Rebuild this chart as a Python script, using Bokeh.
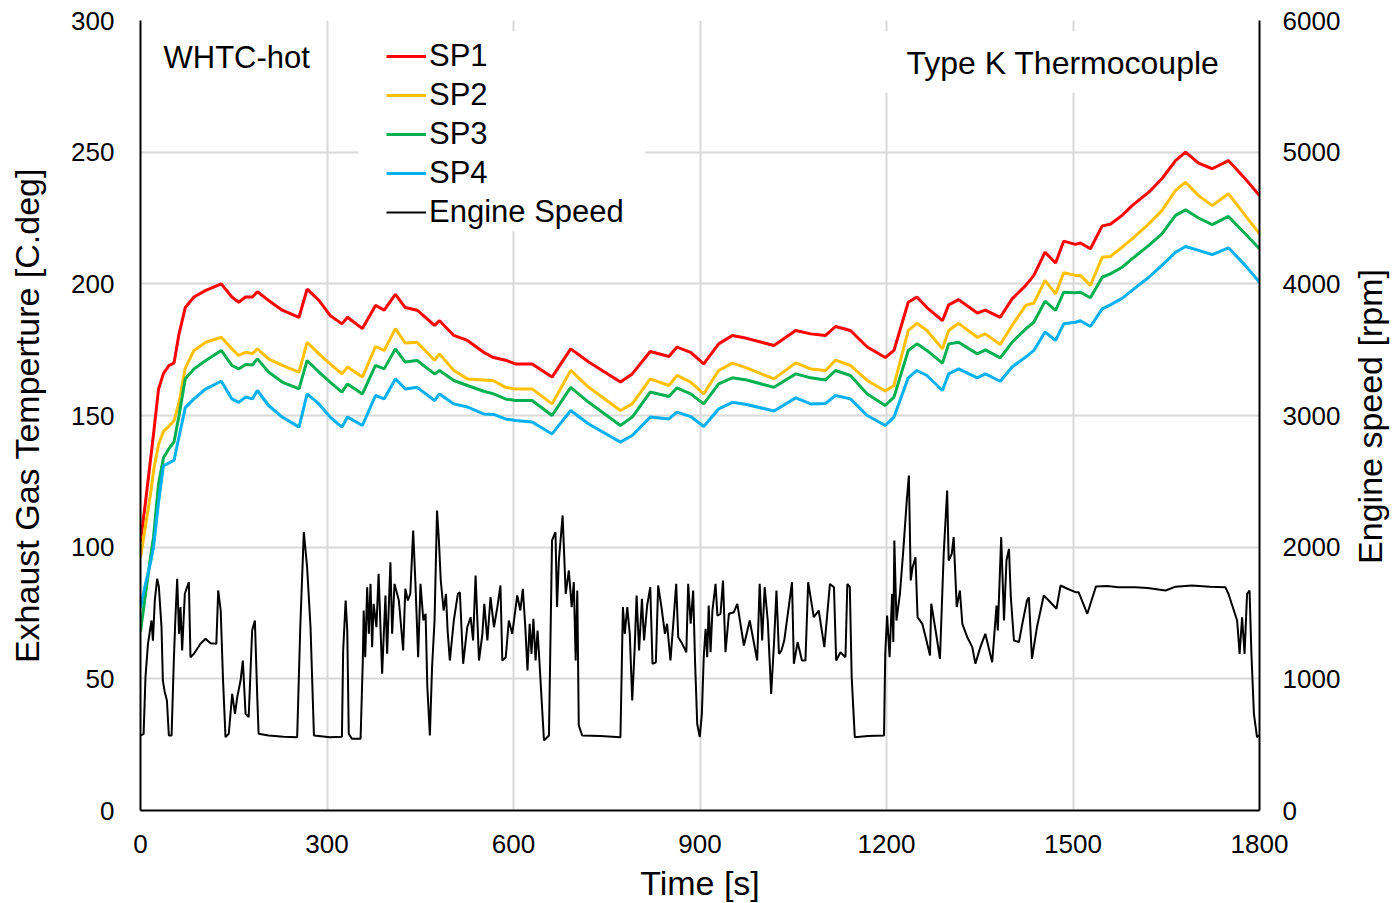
import math
from bokeh.plotting import figure
from bokeh.models import (Range1d, LinearAxis, Legend, LegendItem, BoxAnnotation,
                          Label, FixedTicker)
from bokeh.embed import file_html
from bokeh.resources import INLINE

# ---------------- data ----------------
TEMP_T = [0, 8, 16, 21, 29, 37, 46, 54, 62, 72, 86, 105, 130, 147, 158, 169, 180, 188,
          206, 228, 255, 268, 287, 305, 324, 333, 357, 378, 392, 410, 426, 445, 473, 481,
          504, 526, 552, 568, 587, 603, 630, 662, 692, 721, 772, 791, 820, 850, 863, 885,
          906, 930, 952, 975, 1019, 1054, 1078, 1102, 1118, 1142, 1169, 1198, 1212, 1235,
          1249, 1265, 1290, 1300, 1316, 1346, 1359, 1383, 1402, 1424, 1437, 1455, 1472,
          1485, 1504, 1512, 1528, 1547, 1560, 1579, 1595, 1622, 1643, 1665, 1681, 1702,
          1724, 1750, 1777, 1800]

SP1 = [102, 117, 133, 143, 160, 166, 169, 170, 181, 191, 195, 197.5, 200, 195, 193, 195,
       195, 197, 193.7, 190, 187.3, 198, 193.7, 188, 184.8, 187.3, 183, 191.8, 190, 196,
       191, 190, 184.2, 186, 180.4, 178.5, 174, 172, 171, 169.6, 169.6, 164.6, 175.3,
       170.3, 162.7, 165.8, 174.3, 172.4, 176, 174, 169.6, 177.2, 180.4, 179.3, 176.6,
       182.3, 181, 180.4, 183.8, 182.3, 176, 172, 174.7, 193, 195, 191, 186, 192, 194,
       188.9, 190, 187.3, 194.3, 199.4, 203.2, 212, 207.9, 216.2, 215, 215.5, 213.3, 222,
       222.6, 226, 229.7, 234.8, 239.9, 246.8, 250, 245.8, 243.7, 246.8, 239.9, 233.5]

SP2 = [96, 108, 120, 129, 139, 144, 146, 148, 155, 168, 174.7, 177.8, 179.7, 175.3, 172.8,
       174, 173.5, 175.3, 171.5, 169, 166.5, 177.8, 173.4, 169.6, 165.8, 168.4, 164.6,
       176.2, 174.7, 183, 177.5, 177.8, 171, 173.4, 167.1, 163.9, 163.5, 163.2, 160.7,
       160.1, 160.1, 154.4, 167.1, 160.7, 151.9, 154.4, 163.9, 161.4, 165.2, 162.7, 158.2,
       167.1, 169.9, 168.1, 163.9, 170, 167.7, 167.1, 171, 169, 163.3, 159.3, 161.4, 182.3,
       185, 182.3, 175.3, 182.3, 185, 179.7, 181, 177, 184.2, 191.8, 192.7, 201.3, 196.2,
       204.2, 203.2, 203.2, 199.4, 210.1, 210.4, 213.9, 217.1, 222.8, 227.8, 235.5, 238.6,
       233.5, 229.7, 234.2, 226, 219]

SP3 = [68, 82, 96, 104, 124, 134, 137.5, 140, 150, 164, 167.7, 170.9, 174.7, 169, 167.7,
       169.4, 169.2, 171.5, 166.5, 162.7, 160.1, 170.9, 166.5, 162.7, 158.9, 162, 158.2,
       169, 167.7, 175.3, 170.3, 170.9, 165.8, 167.1, 163.3, 161.4, 159.2, 158.2, 156.3,
       155.7, 155.7, 150, 160.7, 155, 146.2, 149.4, 158.9, 157.2, 160.5, 158.2, 154.4, 162,
       164.3, 163.5, 160.7, 165.8, 164.3, 163.5, 167.1, 165.2, 158.2, 153.8, 157, 174.7,
       177.2, 174.7, 169.9, 177.2, 177.8, 173.4, 174.9, 171.9, 177.8, 182.9, 185.4, 193.4,
       189.9, 196.8, 196.6, 196.8, 194.7, 202.5, 203.8, 206.3, 209.5, 214.6, 219, 226,
       228.1, 225, 222.5, 225.6, 219, 213.3]

SP4 = [77, 86, 94, 100, 117, 131, 132, 133, 142, 153, 156.3, 160.1, 163, 156.3, 155, 157,
       156.3, 159.5, 153.8, 149.4, 145.6, 158.2, 154.4, 149.4, 145.6, 149.4, 146.2, 157.6,
       156.3, 163.9, 160.1, 160.7, 155.7, 158.2, 154.4, 153.2, 150.6, 150.4, 148.7, 148.1,
       147.5, 143, 151.9, 146.8, 139.9, 142.4, 149.4, 148.7, 151.3, 149.6, 145.8, 152.5,
       155, 154.2, 151.7, 156.7, 154.4, 154.6, 157.6, 156.3, 150, 146.2, 149.4, 164.3,
       167.1, 165.2, 159.5, 165.8, 167.7, 164.3, 165.8, 163, 168.4, 172.2, 174.7, 181.7,
       178.5, 184.8, 185.4, 186, 183.8, 190.5, 192, 194.5, 197.5, 202.5, 207, 212, 214.2,
       212.7, 211.1, 213.7, 207, 200.6]

SPEED_T = [0, 5, 8, 12, 17.7, 20, 23, 26.8, 29.5, 33.8, 36, 39, 42.5, 45.6, 50, 53.6, 56,
           59, 62, 64.3, 67, 71.3, 77.8, 80.4, 86, 96.5, 104.6, 112.7, 122, 125, 129,
           132.6, 136.7, 142, 147.5, 152, 155.6, 161, 164.6, 169, 174, 179.6, 184, 188, 190,
           206, 230, 252, 257, 262.7, 268, 273.5, 279, 305, 324, 326, 330, 332.6, 335, 340,
           354, 357.6, 359, 361.5, 364.6, 367.3, 370, 372.6, 375, 379.5, 383, 388.7, 394,
           396.7, 402, 404.8, 408.6, 415.6, 422.5, 426, 430, 434, 438.6, 442.5, 446.6,
           450.4, 455, 458.6, 461.4, 465.5, 469, 473, 477, 480, 483, 487.6, 491.4, 494,
           497.6, 504, 510.5, 513.7, 519, 525.6, 531, 535, 539, 544.5, 550, 553, 558, 563,
           568.6, 574, 579, 582, 587.5, 592.5, 598, 606, 611, 615, 619, 622.5, 626, 629,
           632, 635.5, 638.7, 641, 649, 657, 662, 667.5, 670, 673, 679, 684, 689, 693.6,
           697, 700, 702.6, 705, 710.5, 740, 772, 776, 779, 783, 787, 791, 795, 798, 802,
           806.6, 810, 815, 820, 823.6, 829, 832.7, 838, 843.6, 847, 852.5, 858, 861.7, 865,
           871.5, 878, 881, 885, 889, 892, 895.5, 899.6, 903, 906, 909, 911.6, 914, 917,
           920, 925, 928, 933, 937, 941, 946.5, 954.5, 960, 970.6, 980, 992, 996, 1000,
           1004, 1009, 1014.5, 1019, 1023, 1027, 1031, 1035.5, 1042, 1048, 1051, 1057, 1064,
           1069.6, 1074, 1083, 1091, 1100, 1109, 1115.5, 1119, 1126, 1134, 1137, 1141, 1144,
           1149, 1170, 1196, 1198, 1201, 1205, 1209, 1211, 1212.6, 1216, 1221.6, 1227,
           1232.6, 1236, 1239, 1242, 1246.6, 1250, 1257.6, 1263, 1270, 1272, 1279, 1286,
           1292, 1297.6, 1300, 1305, 1308, 1313, 1318, 1322, 1330, 1338, 1343, 1351, 1359,
           1370, 1377, 1379, 1384.5, 1389, 1393, 1397, 1400, 1405, 1413, 1418.5, 1426, 1429,
           1434, 1442, 1453, 1461, 1473.4, 1480, 1491, 1504, 1509, 1523, 1537, 1555, 1573,
           1600, 1620, 1649, 1665, 1691, 1720, 1745, 1750, 1764, 1768, 1772, 1776, 1780,
           1784, 1787, 1791, 1796, 1800]

SPEED_RPM = [570, 580, 1012, 1266, 1443, 1290, 1595, 1760, 1700, 1392, 987, 900, 835, 570,
             570, 1139, 1443, 1760, 1342, 1545, 1215, 1646, 1734, 1164, 1190, 1266, 1304,
             1271, 1266, 1671, 1519, 1012, 557, 583, 886, 734, 861, 987, 1139, 734, 709,
             1367, 1443, 835, 583, 570, 560, 557, 1392, 2114, 1848, 1392, 570, 557, 560,
             1215, 1595, 1367, 583, 545, 545, 1139, 1519, 1164, 1696, 1342, 1721, 1241,
             1570, 1392, 1797, 1038, 1633, 1190, 1886, 1342, 1721, 1595, 1215, 1684, 1595,
             1646, 2127, 1696, 1164, 1721, 1443, 1494, 937, 570, 1089, 1443, 2278, 2051,
             1747, 1519, 1646, 1367, 1139, 1443, 1646, 1658, 1114, 1392, 1468, 1291, 1785,
             1139, 1342, 1570, 1291, 1620, 1392, 1545, 1709, 1139, 1164, 1443, 1342, 1633,
             1519, 1684, 1392, 1063, 1418, 1190, 1456, 1139, 1367, 1190, 532, 570, 2051,
             2114, 1545, 1899, 2241, 1646, 1823, 1545, 1734, 1139, 1671, 646, 570, 565, 557,
             1545, 1342, 1545, 1342, 835, 1241, 1633, 1215, 1608, 1291, 1557, 1696, 1114,
             1126, 1709, 1545, 1342, 1418, 1139, 1481, 1721, 1316, 1266, 1202, 1721, 1418,
             1671, 1139, 659, 557, 734, 1164, 1380, 1164, 1557, 1202, 1519, 1721, 1481, 1494,
             1747, 1202, 1494, 1506, 1570, 1253, 1443, 1139, 1721, 1291, 1696, 1443, 886,
             1266, 1671, 1190, 1215, 1291, 1519, 1734, 1114, 1279, 1139, 1139, 1734, 1468,
             1519, 1241, 1721, 1696, 1139, 1202, 1164, 1721, 1696, 1012, 557, 565, 570, 1190,
             1481, 1164, 1646, 1279, 2051, 1443, 1646, 1975, 2354, 2544, 1747, 1848, 1924,
             1468, 1418, 1316, 1177, 1570, 1367, 1152, 1949, 2430, 1899, 1949, 2076, 1545,
             1671, 1418, 1316, 1241, 1114, 1241, 1342, 1126, 1557, 1367, 2076, 1443, 1899,
             1987, 1620, 1291, 1279, 1418, 1595, 1620, 1152, 1392, 1633, 1595, 1532, 1709,
             1684, 1658, 1658, 1494, 1702, 1705, 1696, 1696, 1690, 1671, 1700, 1709, 1700,
             1696, 1646, 1443, 1190, 1468, 1190, 1646, 1671, 1190, 734, 557, 570]

X_TICKS = [0, 300, 600, 900, 1200, 1500, 1800]
Y_TICKS = [0, 50, 100, 150, 200, 250, 300]
RPM_TICKS = [0, 1000, 2000, 3000, 4000, 5000, 6000]

SERIES = [("SP1", SP1, "#FF0000"), ("SP2", SP2, "#FFC000"),
          ("SP3", SP3, "#00B050"), ("SP4", SP4, "#00B0F0")]

FONT = "Liberation Sans"
GRID = "#d9d9d9"

# ---------------- figure ----------------
p = figure(frame_width=1119, frame_height=790, output_backend="svg", toolbar_location=None,
           x_range=Range1d(0, 1800), y_range=Range1d(0, 300),
           min_border_left=140, min_border_right=133, min_border_top=20,
           min_border_bottom=93)
p.outline_line_color = None
p.background_fill_color = "white"
p.border_fill_color = "white"
p.extra_y_ranges = {"rpm": Range1d(0, 6000)}

for ax in (p.xaxis[0], p.yaxis[0]):
    ax.major_tick_line_color = None
    ax.minor_tick_line_color = None
    ax.axis_line_color = "black"
    ax.axis_line_width = 2
    ax.major_label_text_font = FONT
    ax.major_label_text_font_size = "26px"
    ax.major_label_text_color = "black"
    ax.axis_label_text_font = FONT
    ax.axis_label_text_font_size = "34px"
    ax.axis_label_text_font_style = "normal"
    ax.axis_label_text_color = "black"

p.xaxis.ticker = FixedTicker(ticks=X_TICKS)
p.yaxis.ticker = FixedTicker(ticks=Y_TICKS)
p.xaxis.axis_label = "Time [s]"
p.yaxis.axis_label = "Exhaust Gas Temperture [C.deg]"
p.xaxis.major_label_standoff = 18
p.xaxis.axis_label_standoff = 8
p.yaxis.major_label_standoff = 20
p.yaxis.axis_label_standoff = 22

raxis = LinearAxis(y_range_name="rpm", ticker=FixedTicker(ticks=RPM_TICKS))
raxis.major_tick_line_color = None
raxis.minor_tick_line_color = None
raxis.axis_line_color = "black"
raxis.axis_line_width = 2
raxis.major_label_text_font = FONT
raxis.major_label_text_font_size = "26px"
raxis.major_label_text_color = "black"
raxis.major_label_standoff = 17
p.add_layout(raxis, "right")

# right axis title (reads bottom to top, like the left one), placed in the right panel
p.add_layout(Label(x=26, y=394, x_units="screen", y_units="screen",
                   text="Engine speed [rpm]", angle=math.pi / 2,
                   text_font=FONT, text_font_size="34px", text_align="center",
                   text_baseline="middle", text_color="black"), "right")

p.xgrid.ticker = FixedTicker(ticks=X_TICKS)
p.ygrid.ticker = FixedTicker(ticks=Y_TICKS)
p.grid.grid_line_color = GRID
p.grid.grid_line_width = 2

# white boxes behind legend and annotation (hide grid lines)
p.add_layout(BoxAnnotation(left=351, right=812, bottom=220, top=296,
                           fill_color="white", fill_alpha=1, line_color=None,
                           level="underlay"))
p.add_layout(BoxAnnotation(left=1190, right=1770, bottom=272.7, top=296,
                           fill_color="white", fill_alpha=1, line_color=None,
                           level="underlay"))

# ---------------- glyphs ----------------
speed = p.line(SPEED_T, SPEED_RPM, y_range_name="rpm", line_color="black", line_width=2)
temp_rs = []
for name, vals, col in SERIES:
    r = p.line(TEMP_T, vals, line_color=col, line_width=3)
    temp_rs.append((name, r))

items = [LegendItem(label=n, renderers=[r]) for n, r in temp_rs]
items.append(LegendItem(label="Engine Speed", renderers=[speed]))
legend = Legend(items=items, location=(246, 580), orientation="vertical",
                label_text_font=FONT, label_text_font_size="31px",
                label_text_color="black", glyph_width=40, glyph_height=30,
                label_height=30, label_standoff=3, spacing=3, padding=5, margin=0,
                background_fill_alpha=0, border_line_color=None)
p.add_layout(legend, "center")

p.add_layout(Label(x=37, y=286, text="WHTC-hot", text_font=FONT,
                   text_font_size="31px", text_baseline="middle", text_color="black"))
p.add_layout(Label(x=1232, y=284, text="Type K Thermocouple", text_font=FONT,
                   text_font_size="32px", text_baseline="middle", text_color="black"))

open("out.html", "w").write(file_html(p, INLINE))
